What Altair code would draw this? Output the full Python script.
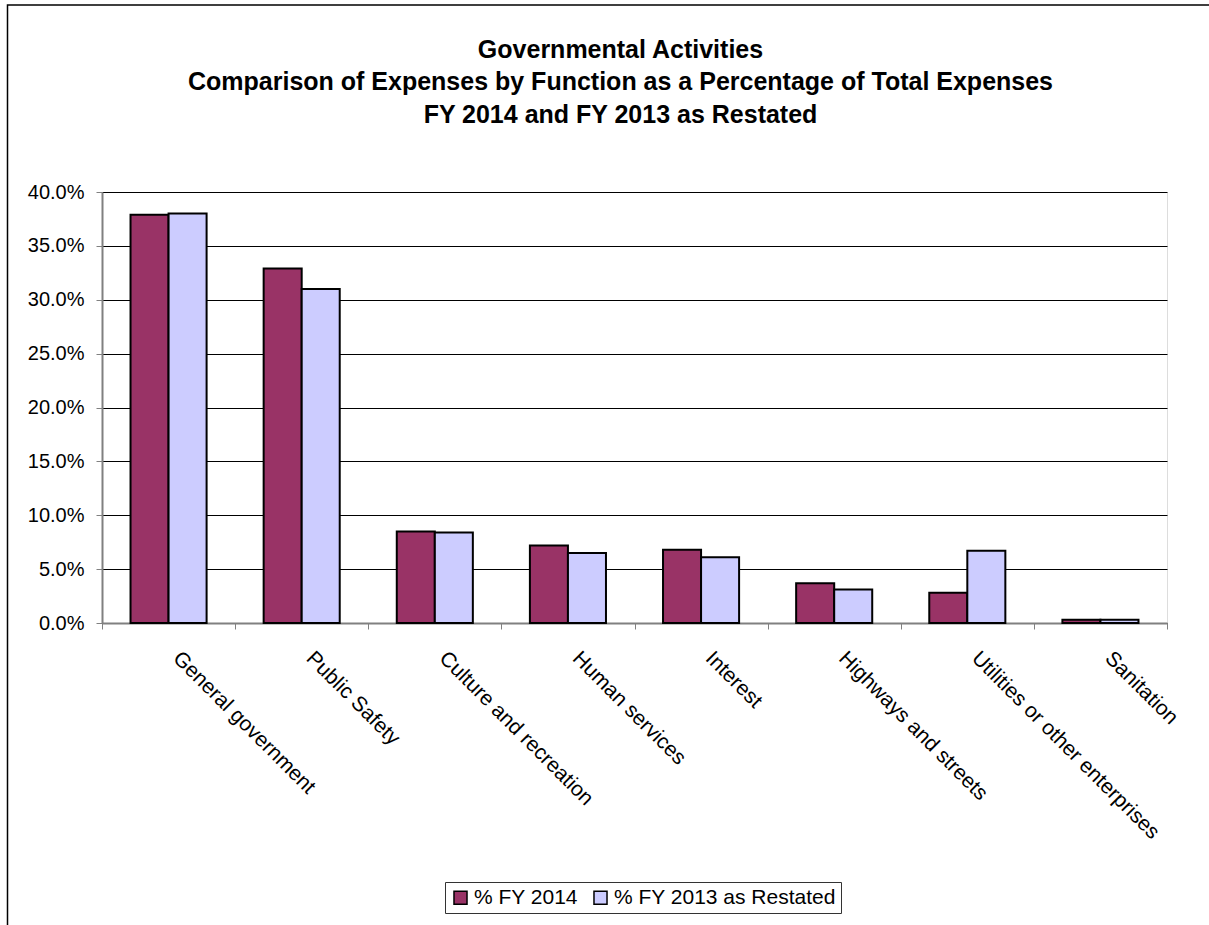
import altair as alt
import pandas as pd

categories = [
    "General government",
    "Public Safety",
    "Culture and recreation",
    "Human services",
    "Interest",
    "Highways and streets",
    "Utilities or other enterprises",
    "Sanitation",
]
fy2014 = [0.379, 0.329, 0.085, 0.072, 0.068, 0.037, 0.028, 0.003]
fy2013 = [0.380, 0.310, 0.084, 0.065, 0.061, 0.031, 0.067, 0.003]
series = ["% FY 2014", "% FY 2013 as Restated"]
colors = ["#993366", "#CCCCFF"]
y_ticks = [0.0, 0.05, 0.10, 0.15, 0.20, 0.25, 0.30, 0.35, 0.40]
title_lines = [
    "Governmental Activities",
    "Comparison of Expenses by Function as a Percentage of Total Expenses",
    "FY 2014 and FY 2013 as Restated",
]

rows = []
for c, a, b in zip(categories, fy2014, fy2013):
    rows.append({"category": c, "series": series[0], "value": a})
    rows.append({"category": c, "series": series[1], "value": b})
df = pd.DataFrame(rows)

FONT = "Liberation Sans"

bars = alt.Chart(df).mark_bar(stroke="black", strokeWidth=2).encode(
    x=alt.X(
        "category:N",
        sort=categories,
        scale=alt.Scale(paddingInner=0, paddingOuter=0),
        axis=alt.Axis(
            title=None,
            labelAngle=45,
            labelAlign="left",
            labelBaseline="top",
            labelFontSize=21,
            labelFont=FONT,
            labelColor="black",
            labelPadding=18,
            labelOffset=15,
            labelLimit=400,
            tickBand="extent",
            tickSize=6,
            tickColor="#808080",
            tickWidth=1,
            domainColor="#808080",
            domainWidth=2,
            grid=False,
        ),
    ),
    xOffset=alt.XOffset(
        "series:N", sort=series, scale=alt.Scale(paddingOuter=0.75, paddingInner=0)
    ),
    y=alt.Y(
        "value:Q",
        scale=alt.Scale(domain=[0, 0.4]),
        axis=alt.Axis(
            title=None,
            values=y_ticks,
            format=".1%",
            labelFontSize=20,
            labelFont=FONT,
            labelColor="black",
            labelPadding=12,
            tickSize=6,
            tickColor="#808080",
            domainColor="#808080",
            domainWidth=2,
            grid=True,
            gridColor="black",
            gridWidth=1,
        ),
    ),
    color=alt.Color(
        "series:N",
        sort=series,
        scale=alt.Scale(domain=series, range=colors),
        legend=alt.Legend(
            title=None,
            orient="none",
            legendX=343,
            legendY=690,
            direction="horizontal",
            strokeColor="#333333",
            padding=5,
            symbolType="square",
            symbolSize=170,
            symbolStrokeColor="black",
            symbolStrokeWidth=1.5,
            labelFontSize=21,
            labelFont=FONT,
            labelColor="black",
            labelOffset=3,
            labelLimit=400,
            columnPadding=12,
        ),
    ),
)

frame = alt.Chart(pd.DataFrame({"k": [0]})).mark_rect(
    fill=None, stroke="black", strokeWidth=1.5
).encode(
    x=alt.value(-94.5), x2=alt.value(1400), y=alt.value(-187), y2=alt.value(1200)
)

title = alt.Chart(pd.DataFrame({"t": ["\n".join(title_lines)]})).mark_text(
    lineBreak="\n",
    font=FONT,
    fontSize=25,
    fontWeight="bold",
    lineHeight=32.5,
    align="center",
    baseline="alphabetic",
    color="black",
).encode(text="t:N", x=alt.value(518.5), y=alt.value(-134.5))

chart = (
    alt.layer(frame, bars, title)
    .properties(
        width=1065,
        height=431,
        padding={"left": 102, "top": 192, "right": 42, "bottom": 302},
        autosize=alt.AutoSizeParams(type="none"),
    )
    .configure_view(stroke="#808080", strokeWidth=2)
    .configure(background="white")
)

chart.save("out.html", embed_options={"renderer": "svg", "actions": False})
